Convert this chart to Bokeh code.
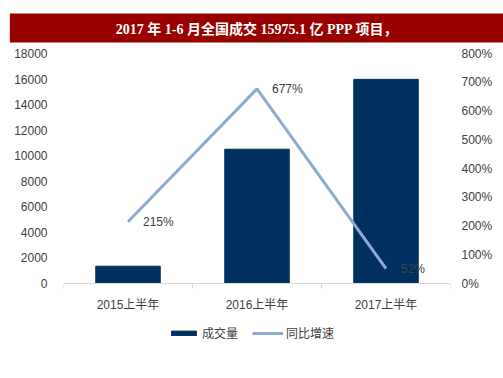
from bokeh.plotting import figure
from bokeh.models import (LinearAxis, Range1d, FixedTicker, NumeralTickFormatter,
                          Legend, LegendItem, ColumnDataSource)
from bokeh.core.properties import value
from bokeh.embed import file_html
from bokeh.resources import INLINE

title_text = "2017 年 1-6 月全国成交 15975.1 亿 PPP 项目，"
categories = ["2015上半年", "2016上半年", "2017上半年"]
volume = [1353, 10510, 15975.1]
growth = [2.15, 6.77, 0.52]
growth_labels = ["215%", "677%", "52%"]
left_ticks = [0, 2000, 4000, 6000, 8000, 10000, 12000, 14000, 16000, 18000]
right_ticks = [0, 1, 2, 3, 4, 5, 6, 7, 8]

FONT = "Liberation Sans, Noto Sans CJK SC"

# frame: top 53, bottom 355; value 0 sits at y=283 (72 px above frame bottom)
LEFT_MAX = 18000
RIGHT_MAX = 8
below_frac = 72 / 230

xs = [i + 0.5 for i in range(len(categories))]
src = ColumnDataSource(dict(x=xs, vol=volume, g=growth, lab=growth_labels))

p = figure(width=503, height=378, x_range=Range1d(0, 3),
           y_range=Range1d(-LEFT_MAX * below_frac, LEFT_MAX),
           output_backend="svg", toolbar_location=None,
           min_border_left=63, min_border_right=53, min_border_top=53, min_border_bottom=23)
p.extra_y_ranges = {"pct": Range1d(-RIGHT_MAX * below_frac, RIGHT_MAX)}
p.grid.visible = False
p.outline_line_color = None

p.title.text = title_text
p.title.align = "center"
p.title.text_color = "white"
p.title.background_fill_color = "#990000"
p.title.text_font = "Liberation Serif, Noto Sans CJK SC"
p.title.text_font_size = "14px"
p.title.text_font_style = "bold"
p.title.padding = dict(left=106, right=106, top=8, bottom=6)
p.title.standoff = 22

bars = p.vbar(x="x", top="vol", width=0.5, source=src, color="#00305F")
line = p.line(x="x", y="g", source=src, y_range_name="pct", line_color="#8FAAD2", line_width=3)
p.text(x="x", y="g", text="lab", source=src, y_range_name="pct", x_offset=15,
       text_align="left", text_baseline="middle", text_color="#404040",
       text_font=value(FONT), text_font_size="12px")

# x axis, pinned at value 0
xa = p.xaxis[0]
xa.fixed_location = 0
xa.ticker = FixedTicker(ticks=xs, minor_ticks=[0, 1, 2, 3])
xa.major_label_overrides = {x: c for x, c in zip(xs, categories)}
xa.major_tick_line_color = None
xa.minor_tick_line_color = "#d9d9d9"
xa.minor_tick_out = 5
xa.minor_tick_in = 0
xa.axis_line_color = "#d9d9d9"
xa.major_label_text_font = FONT
xa.major_label_text_font_size = "12px"
xa.major_label_text_color = "#404040"
xa.major_label_standoff = 8

# left axis
ya = p.yaxis[0]
ya.ticker = FixedTicker(ticks=left_ticks)
ya.axis_line_color = None
ya.major_tick_line_color = None
ya.minor_tick_line_color = None
ya.major_label_text_font = FONT
ya.major_label_text_font_size = "12px"
ya.major_label_text_color = "#404040"
ya.major_label_standoff = 10

# right axis
ra = LinearAxis(y_range_name="pct", ticker=FixedTicker(ticks=right_ticks),
                formatter=NumeralTickFormatter(format="0%"))
ra.axis_line_color = None
ra.major_tick_line_color = None
ra.minor_tick_line_color = None
ra.major_label_text_font = FONT
ra.major_label_text_font_size = "12px"
ra.major_label_text_color = "#404040"
ra.major_label_standoff = 5
p.add_layout(ra, "right")

legend = Legend(items=[LegendItem(label="成交量", renderers=[bars]),
                       LegendItem(label="同比增速", renderers=[line])],
                orientation="horizontal", location=(105, 14),
                glyph_width=31, glyph_height=6, label_standoff=3, spacing=14,
                label_text_font=FONT, label_text_font_size="12px",
                label_text_color="#404040", border_line_color=None,
                background_fill_alpha=0, padding=5, margin=0)
p.add_layout(legend, "center")

open("out.html", "w").write(file_html(p, INLINE))
